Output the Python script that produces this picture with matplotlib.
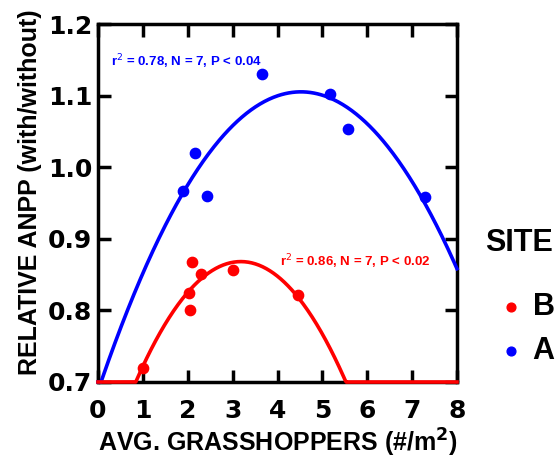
import numpy as np
from matplotlib import pyplot as plt

# site A (blue)
a_x = [1.89, 2.16, 2.43, 3.65, 5.17, 5.57, 7.28]
a_y = [0.967, 1.020, 0.960, 1.130, 1.102, 1.053, 0.958]
# site B (red)
b_x = [1.0, 2.02, 2.05, 2.1, 2.3, 3.0, 4.45]
b_y = [0.720, 0.824, 0.800, 0.868, 0.851, 0.856, 0.821]

x_ticks = [0, 1, 2, 3, 4, 5, 6, 7, 8]
y_ticks = [0.7, 0.8, 0.9, 1.0, 1.1, 1.2]

LAB = "Liberation Sans"
TICK = "DejaVu Sans"
W, H = 557, 458

fig = plt.figure(figsize=(W / 100, H / 100), dpi=100)
ax = fig.add_axes([98 / W, 1 - 382 / H, 359 / W, 358 / H])

# quadratic fits, floored at the axis minimum
xs = np.linspace(0, 8, 400)
ca = np.polyfit(a_x, a_y, 2)
cb = np.polyfit(b_x, b_y, 2)
ax.plot(xs, np.maximum(np.polyval(ca, xs), 0.7), color="#0000ff", lw=2.6, clip_on=False, zorder=3)
ax.plot(xs, np.maximum(np.polyval(cb, xs), 0.7), color="#ff0000", lw=2.6, clip_on=False, zorder=3)

ax.scatter(b_x, b_y, s=55, color="#ff0000", zorder=4, label="B")
ax.scatter(a_x, a_y, s=55, color="#0000ff", zorder=4, label="A")

ax.text(0.3, 1.147, "r$^2$ = 0.78, N = 7, P < 0.04", color="#0000ff",
        fontsize=9.5, fontweight="bold", family=LAB, va="center")
ax.text(4.05, 0.868, "r$^2$ = 0.86, N = 7, P < 0.02", color="#ff0000",
        fontsize=9.5, fontweight="bold", family=LAB, va="center")

ax.set_xlim(0, 8)
ax.set_ylim(0.7, 1.2)
ax.set_xticks(x_ticks)
ax.set_yticks(y_ticks)
ax.set_yticklabels([f"{v:.1f}" for v in y_ticks])
ax.tick_params(direction="in", length=9, width=2.5, top=True, right=True,
               labelsize=18)
ax.tick_params(axis="x", pad=12)
ax.tick_params(axis="y", pad=4)
for lab in ax.get_xticklabels() + ax.get_yticklabels():
    lab.set_fontweight("bold")
    lab.set_family(TICK)
for s in ax.spines.values():
    s.set_linewidth(2.5)

ax.set_xlabel("AVG. GRASSHOPPERS (#/m$^\\mathbf{2}$)", fontsize=18,
              fontweight="bold", family=LAB, labelpad=3)
ax.set_ylabel("RELATIVE ANPP (with/without)", fontsize=18,
              fontweight="bold", family=LAB)
ax.yaxis.set_label_coords(-56 / 359, 0.53)

fig.text(485 / W, 1 - 243 / H, "SITE", fontsize=22, fontweight="bold",
         family=LAB, va="center", ha="left")
ax.legend(loc="upper left", bbox_to_anchor=(502 / W, 1 - 292 / H),
          bbox_transform=fig.transFigure, frameon=False, borderpad=0,
          borderaxespad=0, handlelength=0.6, handletextpad=0.4,
          labelspacing=0.45, markerscale=0.85,
          prop={"family": LAB, "weight": "bold", "size": 22})

fig.savefig("out.png", dpi=100)
